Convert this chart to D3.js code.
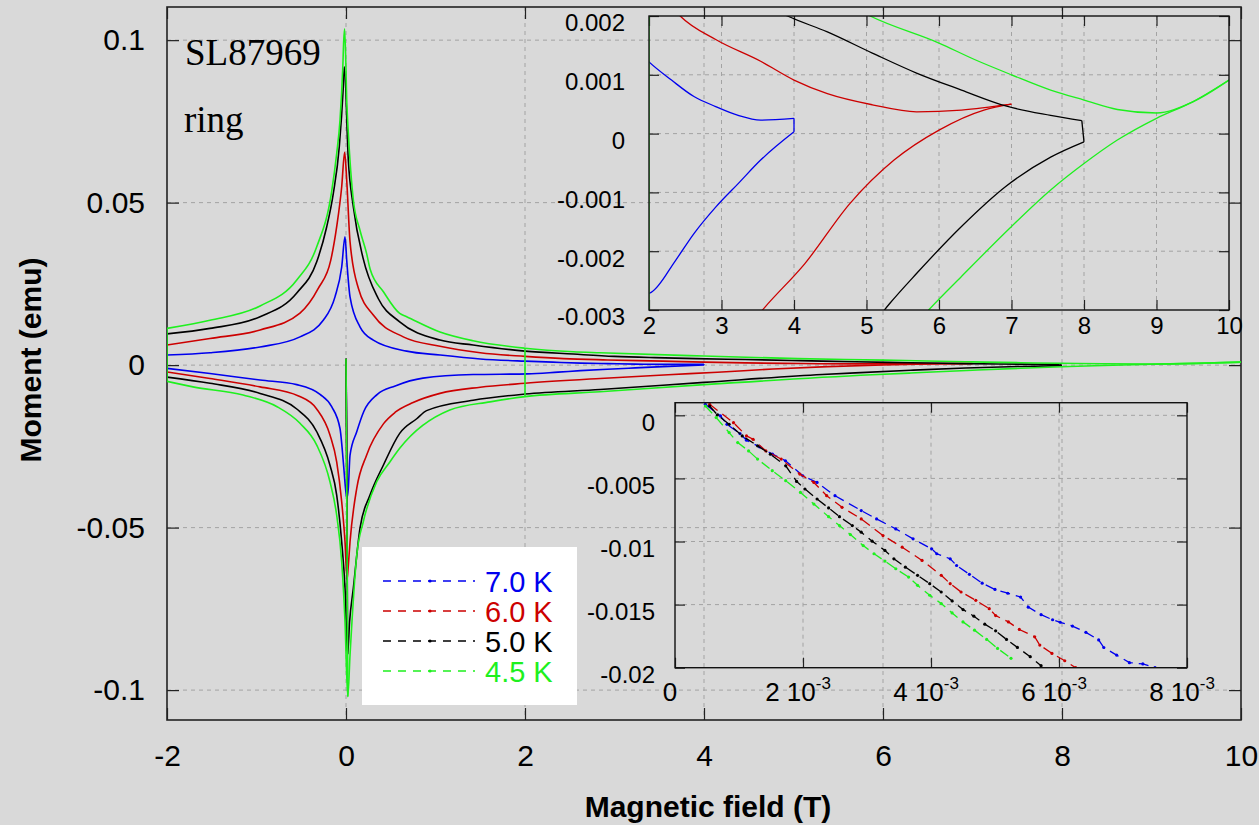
<!DOCTYPE html>
<html><head><meta charset="utf-8">
<script src="https://cdn.jsdelivr.net/npm/d3@7"></script>
<style>body{margin:0;background:#d9d9d9;}svg{display:block;}</style>
</head><body>
<svg id="chart" width="1259" height="825"></svg>
<script>
// ---------------- DATA ----------------
const seriesNames = ["7.0 K", "6.0 K", "5.0 K", "4.5 K"];

// main plot: decreasing-field (upper) branches, listed by increasing field
const blueUp = [[-2.0,0.0031],[-1.52,0.0038],[-0.96,0.0056],[-0.514,0.0087],[-0.254,0.0138],[-0.123,0.021],[-0.048,0.0302],[-0.011,0.0395],[0.008,0.0323],[0.045,0.021],[0.156,0.0118],[0.305,0.0077],[0.678,0.0043],[1.05,0.0031],[1.5,0.0019],[2.0,0.00122],[2.31,0.00091],[2.62,0.00063],[2.92,0.00046],[3.23,0.00031],[3.54,0.00023],[4.0,0.00026]];
const redUp = [[-2.0,0.0062],[-1.52,0.0082],[-0.96,0.0108],[-0.514,0.016],[-0.31,0.0236],[-0.17,0.0323],[-0.104,0.0426],[-0.048,0.0549],[-0.015,0.0655],[0.008,0.0569],[0.045,0.038],[0.14,0.0235],[0.305,0.0154],[0.64,0.0087],[1.05,0.0058],[1.5,0.0038],[2.0,0.0027],[2.43,0.002],[2.92,0.0016],[3.54,0.00123],[4.0,0.00091],[4.46,0.00068],[5.08,0.00049],[5.69,0.00037],[6.31,0.0004],[7.0,0.0005]];
const blackUp = [[-2.0,0.0096],[-1.52,0.0113],[-0.96,0.0149],[-0.55,0.0222],[-0.327,0.0318],[-0.216,0.0425],[-0.142,0.0528],[-0.075,0.0672],[-0.03,0.0856],[-0.019,0.0918],[0.026,0.063],[0.082,0.0487],[0.19,0.033],[0.36,0.0205],[0.6,0.0133],[1.05,0.0077],[1.42,0.0062],[2.0,0.0043],[2.54,0.0034],[3.0,0.0027],[3.45,0.0023],[3.91,0.002],[4.46,0.00173],[5.08,0.00137],[5.69,0.00103],[6.31,0.00074],[6.92,0.00047],[7.54,0.00031],[7.97,0.00022]];
const greenUp = [[-2.0,0.0113],[-1.52,0.0138],[-0.96,0.0182],[-0.55,0.0262],[-0.327,0.0364],[-0.16,0.0535],[-0.104,0.0651],[-0.067,0.0754],[-0.037,0.0908],[-0.025,0.1],[-0.015,0.1035],[0.01,0.08],[0.026,0.0714],[0.082,0.0508],[0.156,0.0415],[0.23,0.0344],[0.27,0.0295],[0.42,0.0225],[0.6,0.0159],[0.678,0.0149],[1.05,0.0102],[1.42,0.0075],[2.0,0.0052],[2.54,0.0041],[2.84,0.0038],[4.0,0.0028],[5.05,0.002],[6.0,0.00154],[6.49,0.00126],[7.0,0.001],[7.54,0.00074],[8.0,0.00057],[8.46,0.00041],[9.0,0.00035],[9.5,0.00054],[10.0,0.00091]];

// main plot: increasing-field (lower) branches
const blueLo = [[-2.0,-0.001],[-1.52,-0.0026],[-0.96,-0.0046],[-0.55,-0.006],[-0.29,-0.009],[-0.16,-0.0128],[-0.067,-0.0195],[-0.03,-0.0298],[-0.005,-0.038],[0.01,-0.041],[0.026,-0.0379],[0.045,-0.0277],[0.12,-0.0205],[0.2,-0.0142],[0.35,-0.009],[0.55,-0.0064],[0.86,-0.004],[1.42,-0.0029],[2.03,-0.0027],[2.37,-0.00215],[2.62,-0.0017],[2.92,-0.00125],[3.23,-0.00085],[3.54,-0.00045],[4.0,0.00003]];
const redLo = [[-2.0,-0.0021],[-1.52,-0.0041],[-0.96,-0.0067],[-0.53,-0.0095],[-0.33,-0.0134],[-0.179,-0.0215],[-0.104,-0.0298],[-0.048,-0.0421],[-0.011,-0.0544],[0.012,-0.066],[0.025,-0.062],[0.045,-0.0544],[0.12,-0.0379],[0.23,-0.0277],[0.42,-0.018],[0.55,-0.0145],[0.75,-0.0115],[1.05,-0.0087],[1.5,-0.0068],[2.0,-0.0056],[2.84,-0.0041],[3.6,-0.00295],[4.15,-0.00221],[4.77,-0.00119],[5.38,-0.00045],[6.0,0.00006],[6.62,0.0004],[7.0,0.0005]];
const blackLo = [[-2.0,-0.0037],[-1.52,-0.0056],[-0.96,-0.0087],[-0.55,-0.0135],[-0.327,-0.0205],[-0.179,-0.0308],[-0.104,-0.04],[-0.048,-0.0544],[-0.011,-0.0686],[0.018,-0.089],[0.04,-0.079],[0.082,-0.0686],[0.156,-0.0502],[0.268,-0.04],[0.417,-0.0308],[0.6,-0.021],[0.79,-0.0165],[0.9,-0.014],[1.42,-0.0108],[2.0,-0.0089],[2.84,-0.0075],[4.0,-0.0053],[5.32,-0.00289],[5.69,-0.00238],[6.31,-0.00158],[6.92,-0.0009],[7.54,-0.0004],[8.0,-0.00014]];
const greenLo = [[-2.0,-0.005],[-1.71,-0.0067],[-1.15,-0.0092],[-0.77,-0.0128],[-0.514,-0.0179],[-0.327,-0.0246],[-0.179,-0.0359],[-0.104,-0.0462],[-0.048,-0.0605],[-0.011,-0.079],[0.02,-0.102],[0.045,-0.0892],[0.12,-0.0585],[0.193,-0.0482],[0.343,-0.0359],[0.49,-0.0298],[0.6,-0.0256],[1.16,-0.0138],[1.61,-0.0113],[2.0,-0.0097],[2.84,-0.0082],[4.0,-0.006],[5.88,-0.00297],[6.31,-0.00243],[7.0,-0.00158],[7.54,-0.00096],[8.0,-0.00051],[8.46,-0.00011],[9.0,0.00026],[9.5,0.00054],[10.0,0.00091]];
const greenGlitch = [[2.0,0.0052],[2.0,-0.0097]];
const virginStart = [0, 0.002];

// low-field virgin curves (lower-right inset)
const blueVirgin = [[0.000474,0.00087],[0.000711,-0.00005],[0.000812,-0.00071],[0.001015,-0.00145],[0.001117,-0.00197],[0.00132,-0.0025],[0.001523,-0.00308],[0.001726,-0.0036],[0.001997,-0.00479],[0.00222,-0.00532],[0.0025,-0.00637],[0.00291,-0.00755],[0.00315,-0.00821],[0.00345,-0.009],[0.00372,-0.00979],[0.00401,-0.01058],[0.00409,-0.01097],[0.0043,-0.01137],[0.0044,-0.0119],[0.0046,-0.0126],[0.0048,-0.0133],[0.005,-0.0138],[0.0052,-0.0141],[0.0054,-0.0144],[0.00552,-0.0152],[0.00572,-0.0158],[0.0059,-0.0162],[0.00602,-0.0164],[0.00621,-0.0167],[0.00642,-0.0172],[0.00662,-0.0178],[0.0067,-0.0184],[0.0069,-0.019],[0.0071,-0.0196],[0.00731,-0.0197],[0.0075,-0.02]];
const redVirgin = [[0.000541,0.00087],[0.000914,-0.00058],[0.001117,-0.00163],[0.00122,-0.0019],[0.00142,-0.00282],[0.00166,-0.00347],[0.00195,-0.00466],[0.00217,-0.00532],[0.00237,-0.00637],[0.00261,-0.00729],[0.00291,-0.00821],[0.00325,-0.00953],[0.00355,-0.01045],[0.00386,-0.0115],[0.00416,-0.01268],[0.0043,-0.01334],[0.00447,-0.014],[0.0047,-0.01466],[0.00491,-0.01532],[0.00501,-0.01587],[0.00521,-0.01637],[0.00538,-0.01697],[0.00562,-0.01755],[0.0057,-0.01821],[0.00589,-0.01887],[0.00609,-0.01945],[0.00626,-0.02]];
const blackVirgin = [[0.000541,0.00074],[0.000663,0.00003],[0.000846,-0.00071],[0.00105,-0.00163],[0.00129,-0.00242],[0.00149,-0.00308],[0.00173,-0.004],[0.0019,-0.00524],[0.00203,-0.00584],[0.00222,-0.00663],[0.0024,-0.00734],[0.00257,-0.00803],[0.00277,-0.00874],[0.00291,-0.00926],[0.00308,-0.00997],[0.00328,-0.01071],[0.00342,-0.01137],[0.0036,-0.01203],[0.00379,-0.01268],[0.00398,-0.01334],[0.00416,-0.014],[0.00433,-0.01471],[0.0045,-0.01539],[0.00467,-0.01592],[0.00484,-0.01655],[0.00501,-0.01708],[0.00518,-0.01776],[0.00535,-0.01839],[0.00555,-0.01913],[0.00572,-0.01984]];
const greenVirgin = [[0.000474,0.00074],[0.000643,-0.00018],[0.000846,-0.00137],[0.00098,-0.00216],[0.00115,-0.00282],[0.00129,-0.00347],[0.00152,-0.00439],[0.00173,-0.00518],[0.00196,-0.00611],[0.00217,-0.00703],[0.0024,-0.00803],[0.00257,-0.00874],[0.00274,-0.00945],[0.00294,-0.01032],[0.00311,-0.01097],[0.00328,-0.01155],[0.00345,-0.01216],[0.00365,-0.01282],[0.00379,-0.01347],[0.00398,-0.01426],[0.00416,-0.01492],[0.00433,-0.01566],[0.0045,-0.01637],[0.00468,-0.01703],[0.00487,-0.01776],[0.00504,-0.01847],[0.00525,-0.01926]];

// ticks
const xTicks = [-2, 0, 2, 4, 6, 8, 10];
const xTickLabels = ["-2", "0", "2", "4", "6", "8", "10"];
const yTicks = [-0.1, -0.05, 0, 0.05, 0.1];
const yTickLabels = ["-0.1", "-0.05", "0", "0.05", "0.1"];
const in1XTicks = [2, 3, 4, 5, 6, 7, 8, 9, 10];
const in1XLabels = ["2", "3", "4", "5", "6", "7", "8", "9", "10"];
const in1YTicks = [-0.003, -0.002, -0.001, 0, 0.001, 0.002];
const in1YLabels = ["-0.003", "-0.002", "-0.001", "0", "0.001", "0.002"];
const in2XTicks = [0, 0.002, 0.004, 0.006, 0.008];
const in2XMantissa = ["0", "2", "4", "6", "8"];
const in2XExp = ["", "-3", "-3", "-3", "-3"];
const in2YTicks = [-0.02, -0.015, -0.01, -0.005, 0];
const in2YLabels = ["-0.02", "-0.015", "-0.01", "-0.005", "0"];

// ---------------- STYLE ----------------
const colors = ["#0000ee", "#cc0000", "#000000", "#1ef01e"];
const FONT = "'Liberation Sans', Arial, sans-serif";
const ups = [blueUp, redUp, blackUp, greenUp];
const los = [blueLo, redLo, blackLo, greenLo];
const virgins = [blueVirgin, redVirgin, blackVirgin, greenVirgin];

const svg = d3.select("#chart");
svg.append("rect").attr("width", 1259).attr("height", 825).attr("fill", "#d9d9d9");
const defs = svg.append("defs");

// main scales
const M = {l: 167, r: 1241, t: 7, b: 720};
const x = d3.scaleLinear().domain([-2, 10]).range([M.l, M.r]);
const y = d3.scaleLinear().domain([-0.1092, 0.1102]).range([M.b, M.t]);

defs.append("clipPath").attr("id", "clipMain").append("rect")
  .attr("x", M.l).attr("y", M.t).attr("width", M.r - M.l + 3).attr("height", M.b - M.t);

const gridColor = "#a3a3a3";
const gGrid = svg.append("g");
xTicks.slice(1, -1).forEach(v => gGrid.append("line").attr("x1", x(v)).attr("x2", x(v)).attr("y1", M.t).attr("y2", M.b)
  .attr("stroke", gridColor).attr("stroke-dasharray", "4,4"));
yTicks.forEach(v => gGrid.append("line").attr("x1", M.l).attr("x2", M.r).attr("y1", y(v)).attr("y2", y(v))
  .attr("stroke", gridColor).attr("stroke-dasharray", "4,4"));

function styleAxis(g, size) {
  g.select(".domain").remove();
  g.selectAll("line").attr("stroke", "#222").attr("stroke-width", 1.2);
  g.selectAll("text").attr("font-family", FONT).attr("font-size", size).attr("fill", "#000");
}
styleAxis(svg.append("g").attr("transform", `translate(${M.l},0)`)
  .call(d3.axisLeft(y).tickValues(yTicks).tickFormat((d, i) => yTickLabels[i]).tickSize(-12).tickSizeOuter(0).tickPadding(22)), 30);
styleAxis(svg.append("g").attr("transform", `translate(${M.r},0)`)
  .call(d3.axisRight(y).tickValues(yTicks).tickFormat("").tickSize(-12).tickSizeOuter(0)), 30);
styleAxis(svg.append("g").attr("transform", `translate(0,${M.b})`)
  .call(d3.axisBottom(x).tickValues(xTicks).tickFormat((d, i) => xTickLabels[i]).tickSize(-12).tickSizeOuter(0).tickPadding(25)), 30);
styleAxis(svg.append("g").attr("transform", `translate(0,${M.t})`)
  .call(d3.axisTop(x).tickValues(xTicks).tickFormat("").tickSize(-12).tickSizeOuter(0)), 30);
svg.append("rect").attr("x", M.l).attr("y", M.t).attr("width", M.r - M.l).attr("height", M.b - M.t)
  .attr("fill", "none").attr("stroke", "#222").attr("stroke-width", 1.6);

// axis titles
svg.append("text").attr("x", 708).attr("y", 817).attr("text-anchor", "middle")
  .attr("font-family", FONT).attr("font-weight", "bold").attr("font-size", 30).text("Magnetic field (T)");
svg.append("text").attr("transform", "translate(41,360) rotate(-90)").attr("text-anchor", "middle")
  .attr("font-family", FONT).attr("font-weight", "bold").attr("font-size", 30).text("Moment (emu)");

// sample text
svg.append("text").attr("x", 185).attr("y", 65).attr("font-family", "'Liberation Serif', serif").attr("font-size", 37).text("SL87969");
svg.append("text").attr("x", 184).attr("y", 132).attr("font-family", "'Liberation Serif', serif").attr("font-size", 37).text("ring");

// main data
function drawLoops(g, sx, sy, width) {
  const lineM = d3.line().x(d => sx(d[0])).y(d => sy(d[1])).curve(d3.curveMonotoneX);
  const lineL = d3.line().x(d => sx(d[0])).y(d => sy(d[1]));
  ups.forEach((up, i) => {
    const lo = los[i], c = colors[i];
    const minPt = d3.least(lo, d => d[1]);
    g.append("path").attr("d", lineL([virginStart, ...virgins[i], minPt])).attr("fill", "none").attr("stroke", c).attr("stroke-width", width);
    g.append("path").attr("d", lineM(lo)).attr("fill", "none").attr("stroke", c).attr("stroke-width", width);
    g.append("path").attr("d", lineM(up)).attr("fill", "none").attr("stroke", c).attr("stroke-width", width);
    g.append("path").attr("d", lineL([up[0], lo[0]])).attr("fill", "none").attr("stroke", c).attr("stroke-width", width);
    g.append("path").attr("d", lineL([up[up.length - 1], lo[lo.length - 1]])).attr("fill", "none").attr("stroke", c).attr("stroke-width", width);
  });
  g.append("path").attr("d", lineL(greenGlitch)).attr("fill", "none").attr("stroke", colors[3]).attr("stroke-width", width);
}
drawLoops(svg.append("g").attr("clip-path", "url(#clipMain)"), x, y, 1.6);

// ---------------- INSET 1 ----------------
const I1 = {l: 649, r: 1229, t: 16, b: 310};
const x1 = d3.scaleLinear().domain([2, 10]).range([I1.l, I1.r]);
const y1 = d3.scaleLinear().domain([-0.003, 0.002]).range([I1.b, I1.t]);
defs.append("clipPath").attr("id", "clipI1").append("rect").attr("x", I1.l).attr("y", I1.t).attr("width", I1.r - I1.l).attr("height", I1.b - I1.t);
const gI1 = svg.append("g");
in1XTicks.slice(1, -1).forEach(v => gI1.append("line").attr("x1", x1(v)).attr("x2", x1(v)).attr("y1", I1.t).attr("y2", I1.b)
  .attr("stroke", gridColor).attr("stroke-dasharray", "4,4"));
in1YTicks.slice(1, -1).forEach(v => gI1.append("line").attr("x1", I1.l).attr("x2", I1.r).attr("y1", y1(v)).attr("y2", y1(v))
  .attr("stroke", gridColor).attr("stroke-dasharray", "4,4"));
const ax1L = gI1.append("g").attr("transform", `translate(${I1.l},0)`)
  .call(d3.axisLeft(y1).tickValues(in1YTicks).tickFormat((d, i) => in1YLabels[i]).tickSize(-10).tickSizeOuter(0).tickPadding(24));
styleAxis(ax1L, 24); ax1L.selectAll("text").attr("dy", "0.62em");
styleAxis(gI1.append("g").attr("transform", `translate(${I1.r},0)`)
  .call(d3.axisRight(y1).tickValues(in1YTicks).tickFormat("").tickSize(-10).tickSizeOuter(0)), 24);
styleAxis(gI1.append("g").attr("transform", `translate(0,${I1.b})`)
  .call(d3.axisBottom(x1).tickValues(in1XTicks).tickFormat((d, i) => in1XLabels[i]).tickSize(-10).tickSizeOuter(0).tickPadding(7)), 24);
styleAxis(gI1.append("g").attr("transform", `translate(0,${I1.t})`)
  .call(d3.axisTop(x1).tickValues(in1XTicks).tickFormat("").tickSize(-10).tickSizeOuter(0)), 24);
drawLoops(gI1.append("g").attr("clip-path", "url(#clipI1)"), x1, y1, 1.3);
gI1.append("rect").attr("x", I1.l).attr("y", I1.t).attr("width", I1.r - I1.l).attr("height", I1.b - I1.t)
  .attr("fill", "none").attr("stroke", "#111").attr("stroke-width", 1.4);

// ---------------- INSET 2 ----------------
const I2 = {l: 675, r: 1187, t: 402.7, b: 667.7};
const x2 = d3.scaleLinear().domain([0, 0.008]).range([I2.l, I2.r]);
const y2 = d3.scaleLinear().domain([-0.02, 0.001]).range([I2.b, I2.t]);
defs.append("clipPath").attr("id", "clipI2").append("rect").attr("x", I2.l).attr("y", I2.t).attr("width", I2.r - I2.l).attr("height", I2.b - I2.t);
const gI2 = svg.append("g");
in2XTicks.slice(1, -1).forEach(v => gI2.append("line").attr("x1", x2(v)).attr("x2", x2(v)).attr("y1", I2.t).attr("y2", I2.b)
  .attr("stroke", gridColor).attr("stroke-dasharray", "4,4"));
in2YTicks.slice(1).forEach(v => gI2.append("line").attr("x1", I2.l).attr("x2", I2.r).attr("y1", y2(v)).attr("y2", y2(v))
  .attr("stroke", gridColor).attr("stroke-dasharray", "4,4"));
const ax2L = gI2.append("g").attr("transform", `translate(${I2.l},0)`)
  .call(d3.axisLeft(y2).tickValues(in2YTicks).tickFormat((d, i) => in2YLabels[i]).tickSize(-10).tickSizeOuter(0).tickPadding(20));
styleAxis(ax2L, 24); ax2L.selectAll("text").attr("dy", "0.62em");
styleAxis(gI2.append("g").attr("transform", `translate(${I2.r},0)`)
  .call(d3.axisRight(y2).tickValues(in2YTicks).tickFormat("").tickSize(-10).tickSizeOuter(0)), 24);
styleAxis(gI2.append("g").attr("transform", `translate(0,${I2.b})`)
  .call(d3.axisBottom(x2).tickValues(in2XTicks).tickFormat("").tickSize(-10).tickSizeOuter(0)), 24);
styleAxis(gI2.append("g").attr("transform", `translate(0,${I2.t})`)
  .call(d3.axisTop(x2).tickValues(in2XTicks).tickFormat("").tickSize(-10).tickSizeOuter(0)), 24);
in2XTicks.forEach((v, i) => {
  const t = gI2.append("text").attr("x", x2(v) - 5).attr("y", 701).attr("text-anchor", "middle")
    .attr("font-family", FONT).attr("font-size", 26);
  if (in2XExp[i]) {
    t.append("tspan").text(in2XMantissa[i] + " 10");
    t.append("tspan").attr("font-size", 17).attr("dy", -12).text(in2XExp[i]);
  } else t.text(in2XMantissa[i]);
});
const gV = gI2.append("g").attr("clip-path", "url(#clipI2)");
const lineV = d3.line().x(d => x2(d[0])).y(d => y2(d[1]));
virgins.forEach((v, i) => {
  gV.append("path").attr("d", lineV(v)).attr("fill", "none").attr("stroke", colors[i]).attr("stroke-width", 1.3).attr("stroke-dasharray", "10,6");
  gV.selectAll(null).data(v).join("circle").attr("cx", d => x2(d[0])).attr("cy", d => y2(d[1])).attr("r", 1.6).attr("fill", colors[i]);
});
gI2.append("rect").attr("x", I2.l).attr("y", I2.t).attr("width", I2.r - I2.l).attr("height", I2.b - I2.t)
  .attr("fill", "none").attr("stroke", "#111").attr("stroke-width", 1.4);

// ---------------- LEGEND ----------------
const gL = svg.append("g");
gL.append("rect").attr("x", 362).attr("y", 547).attr("width", 215).attr("height", 158).attr("fill", "#fff");
seriesNames.forEach((n, i) => {
  const ly = 581 + i * 30;
  gL.append("line").attr("x1", 383).attr("x2", 475).attr("y1", ly).attr("y2", ly)
    .attr("stroke", colors[i]).attr("stroke-width", 1.3).attr("stroke-dasharray", "8,7");
  gL.append("circle").attr("cx", 430).attr("cy", ly).attr("r", 1.6).attr("fill", colors[i]);
  gL.append("text").attr("x", 485).attr("y", ly + 11).attr("font-family", FONT).attr("font-size", 29)
    .attr("fill", colors[i]).text(n);
});
</script>
</body></html>
